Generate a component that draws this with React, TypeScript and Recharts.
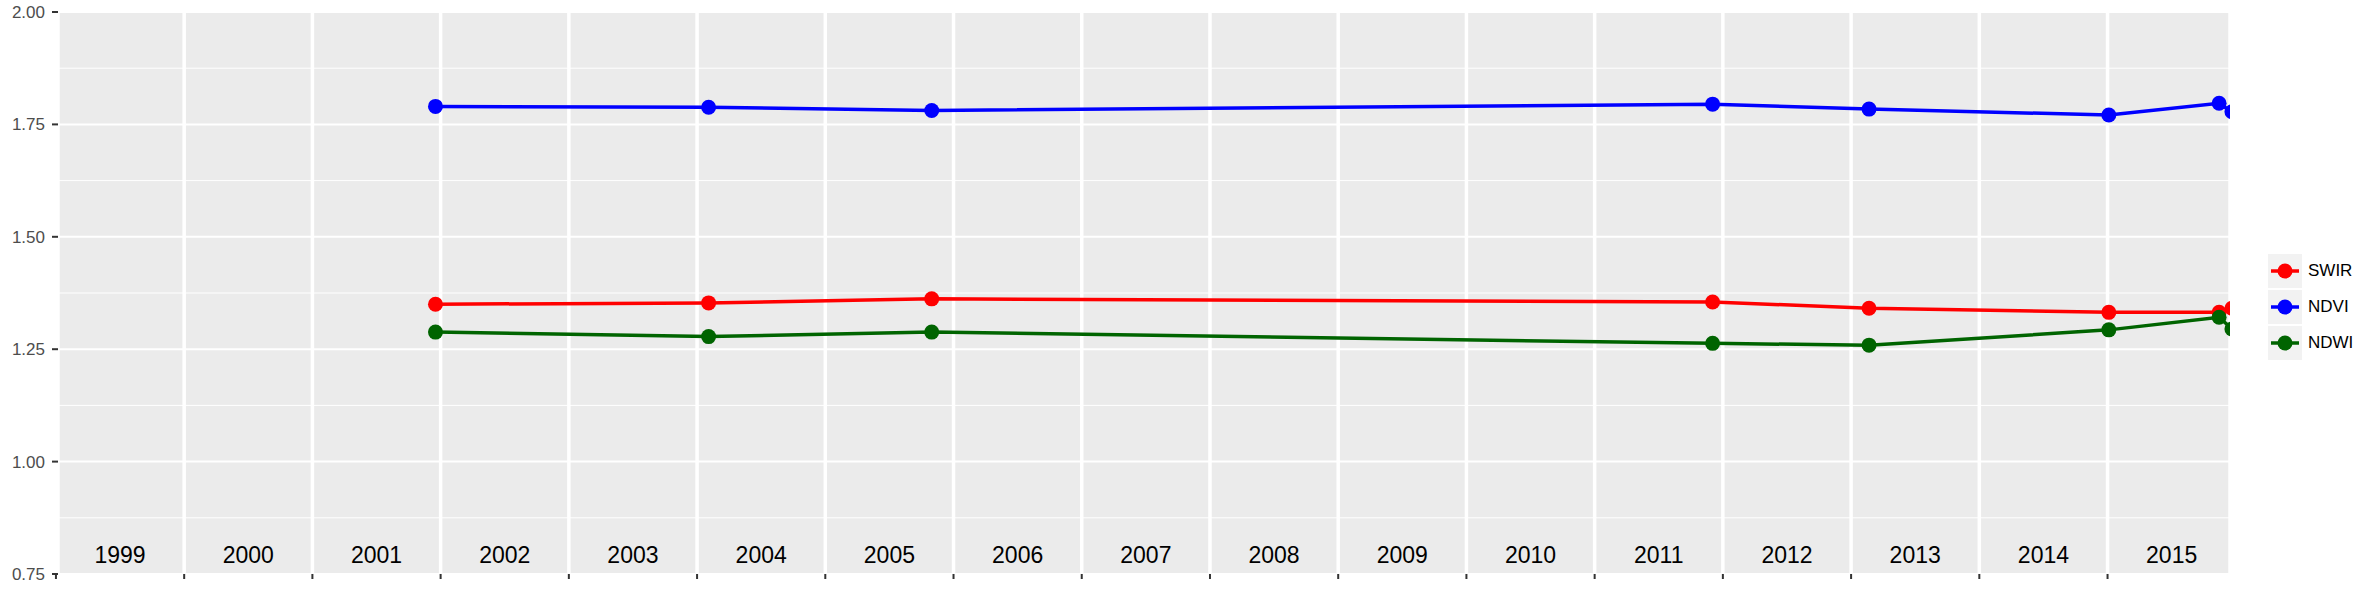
import { CartesianGrid, Line, LineChart, ReferenceLine, XAxis, YAxis } from "recharts"

const dates = [2001.96, 2004.09, 2005.83, 2011.92, 2013.14, 2015.01, 2015.87, 2015.97]
const swir = [1.35, 1.353, 1.362, 1.355, 1.341, 1.332, 1.332, 1.341]
const ndvi = [1.79, 1.788, 1.781, 1.795, 1.784, 1.771, 1.797, 1.778]
const ndwi = [1.288, 1.278, 1.288, 1.263, 1.259, 1.293, 1.321, 1.295]

const years = [1999, 2000, 2001, 2002, 2003, 2004, 2005, 2006, 2007, 2008, 2009, 2010, 2011, 2012, 2013, 2014, 2015]
const yTicks = [0.75, 1, 1.25, 1.5, 1.75, 2]
const yMinor = [0.875, 1.125, 1.375, 1.625, 1.875]

const series = [
  { key: "SWIR", color: "#ff0000" },
  { key: "NDVI", color: "#0000ff" },
  { key: "NDWI", color: "#006400" },
]

const data = dates.map((d, i) => ({ date: d, SWIR: swir[i], NDVI: ndvi[i], NDWI: ndwi[i] }))

const font = "'Liberation Sans', Arial, sans-serif"

function LegendBox() {
  return (
    <div style={{ position: "absolute", left: 2268, top: 254, fontFamily: font }}>
      {series.map((s) => (
        <div key={s.key} style={{ display: "flex", alignItems: "center", height: 34, marginBottom: 2 }}>
          <svg width={34} height={34}>
            <rect width={34} height={34} fill="#f2f2f2" />
            <line x1={3} x2={31} y1={17} y2={17} stroke={s.color} strokeWidth={3.5} />
            <circle cx={17} cy={17} r={7.5} fill={s.color} />
          </svg>
          <span style={{ marginLeft: 6, fontSize: 17, color: "#000" }}>{s.key}</span>
        </div>
      ))}
    </div>
  )
}

export default function App() {
  return (
    <div style={{ position: "absolute", left: 0, top: 0, width: 2378, height: 593, background: "#fff" }}>
      <LineChart width={2378} height={593} data={data} margin={{ top: 12, right: 148, left: 0, bottom: 0 }}>
        <CartesianGrid fill="#ebebeb" stroke="#fff" strokeWidth={3.5} horizontal={false} />
        <CartesianGrid stroke="#fff" strokeWidth={2} vertical={false} />
        {yMinor.map((v) => (
          <ReferenceLine key={v} y={v} stroke="#fff" strokeWidth={1} />
        ))}
        {years.map((yr) => (
          <ReferenceLine
            key={yr}
            x={yr + 0.5}
            stroke="none"
            label={{ value: String(yr), position: "insideBottom", offset: 11, fill: "#000", fontSize: 23, fontFamily: font }}
          />
        ))}
        <XAxis
          dataKey="date"
          type="number"
          domain={[1999.016, 2015.955]}
          allowDataOverflow
          ticks={years}
          height={19}
          axisLine={false}
          tickLine={{ stroke: "#333", strokeWidth: 2 }}
          tickSize={5}
          tick={() => <g />}
        />
        <YAxis
          type="number"
          domain={[0.75, 2]}
          ticks={yTicks}
          width={58}
          axisLine={false}
          tickLine={{ stroke: "#333", strokeWidth: 2 }}
          tickSize={6}
          tickMargin={7}
          tickFormatter={(v: number) => v.toFixed(2)}
          tick={{ fill: "#4d4d4d", fontSize: 17, fontFamily: font }}
        />
        {series.map((s) => (
          <Line
            key={s.key}
            dataKey={s.key}
            type="linear"
            stroke={s.color}
            strokeWidth={3.5}
            dot={{ r: 7.5, fill: s.color, stroke: s.color, strokeWidth: 0 }}
            activeDot={false}
            isAnimationActive={false}
          />
        ))}
      </LineChart>
      <LegendBox />
    </div>
  )
}
